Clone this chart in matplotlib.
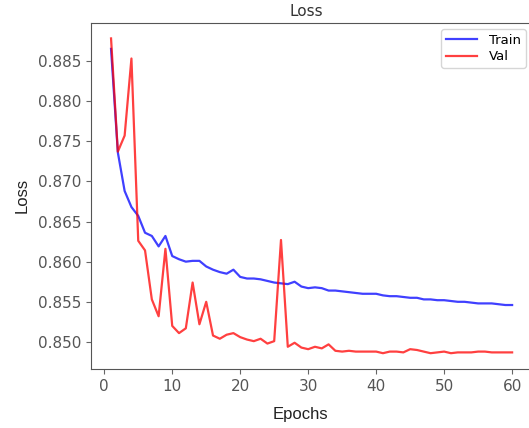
import matplotlib
matplotlib.use("Agg")
import matplotlib.pyplot as plt

epochs = list(range(1, 61))

train_loss = [
    0.8865, 0.8736, 0.8688, 0.8668, 0.8657, 0.8636, 0.8632, 0.8619, 0.8632, 0.8607,
    0.8603, 0.8600, 0.8601, 0.8601, 0.8594, 0.8590, 0.8587, 0.8585, 0.8590, 0.8581,
    0.8579, 0.8579, 0.8578, 0.8576, 0.8574, 0.8573, 0.8572, 0.8575, 0.8569, 0.8567,
    0.8568, 0.8567, 0.8564, 0.8564, 0.8563, 0.8562, 0.8561, 0.8560, 0.8560, 0.8560,
    0.8558, 0.8557, 0.8557, 0.8556, 0.8555, 0.8555, 0.8553, 0.8553, 0.8552, 0.8552,
    0.8551, 0.8550, 0.8550, 0.8549, 0.8548, 0.8548, 0.8548, 0.8547, 0.8546, 0.8546,
]

val_loss = [
    0.8878, 0.8737, 0.8757, 0.8853, 0.8626, 0.8614, 0.8553, 0.8532, 0.8616, 0.8520,
    0.8511, 0.8517, 0.8574, 0.8522, 0.8550, 0.8508, 0.8504, 0.8509, 0.8511, 0.8506,
    0.8503, 0.8501, 0.8504, 0.8498, 0.8501, 0.8627, 0.8494, 0.8499, 0.8493, 0.8491,
    0.8494, 0.8492, 0.8497, 0.8489, 0.8488, 0.8489, 0.8488, 0.8488, 0.8488, 0.8488,
    0.8486, 0.8488, 0.8488, 0.8487, 0.8491, 0.8490, 0.8488, 0.8486, 0.8487, 0.8488,
    0.8486, 0.8487, 0.8487, 0.8487, 0.8488, 0.8488, 0.8487, 0.8487, 0.8487, 0.8487,
]


def main():
    fig = plt.figure(figsize=(5.29, 4.28), dpi=100)
    # the source picture is cropped on the right, so the axes run past the edge
    ax = fig.add_axes([0.172, 0.138, 0.834, 0.809])

    ax.plot(epochs, train_loss, color="blue", alpha=0.75, lw=1.6, label="Train")
    ax.plot(epochs, val_loss, color="red", alpha=0.75, lw=1.6, label="Val")

    label_font = {"family": "Liberation Sans", "size": 12, "color": "#222222"}
    ax.set_title("Loss", fontsize=11, color="#333333", pad=5)
    ax.set_xlabel("Epochs", fontdict=label_font)
    ax.set_ylabel("Loss", fontdict=label_font)
    ax.xaxis.set_label_coords(0.474, -0.11)
    ax.yaxis.set_label_coords(-0.14, 0.5)
    ax.title.set_position((0.489, 1.0))

    ax.tick_params(labelsize=11, labelcolor="#555555", color="#666666")
    for spine in ax.spines.values():
        spine.set_color("#555555")

    ax.legend(loc="upper right", fontsize=9.5, borderpad=0.35,
              labelspacing=0.25, handlelength=2.35, handletextpad=0.9)

    fig.savefig("out.png", dpi=100)


if __name__ == "__main__":
    main()
